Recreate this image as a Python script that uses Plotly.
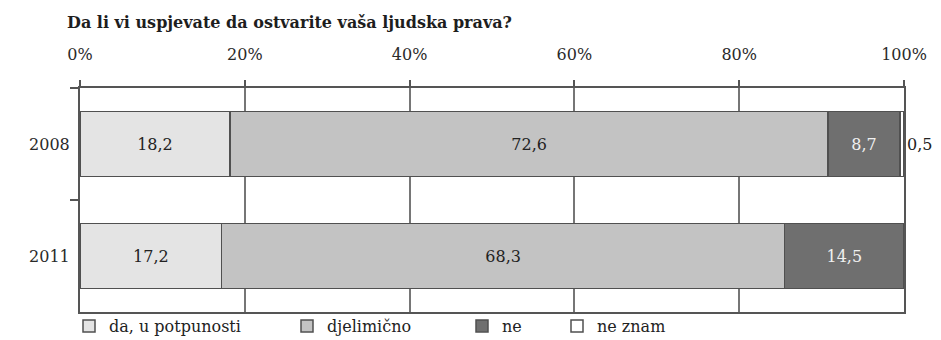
import plotly.graph_objects as go

# Survey answers by year (percent of respondents)
years = ["2008", "2011"]
answers = ["da, u potpunosti", "djelimično", "ne", "ne znam"]
da_u_potpunosti = [18.2, 17.2]
djelimicno = [72.6, 68.3]
ne = [8.7, 14.5]
ne_znam = [0.5, None]
tick_values = [0, 20, 40, 60, 80, 100]
tick_labels = ["0%", "20%", "40%", "60%", "80%", "100%"]

series = [da_u_potpunosti, djelimicno, ne, ne_znam]
fills = ["#e4e4e4", "#c3c3c3", "#6f6f6f", "#ffffff"]
text_colors = ["#222222", "#222222", "#f0f0f0", "#222222"]
legend_names = ["legend", "legend2", "legend3", "legend4"]
legend_left_px = [69, 287, 462, 557]

FONT = "DejaVu Serif"
W, H = 941, 340
M = dict(l=80, r=37, t=88, b=28)
plot_w = W - M["l"] - M["r"]

fig = go.Figure()
for i, (name, vals) in enumerate(zip(answers, series)):
    positions = ["inside", "inside"] if i < 3 else ["outside", "none"]
    fig.add_trace(go.Bar(
        y=years, x=vals, name=name, orientation="h",
        marker=dict(color=fills[i], line=dict(color="#505050", width=1.5)),
        texttemplate="%{x:.1f}",
        textposition=positions,
        insidetextanchor="middle",
        textangle=0,
        constraintext="none",
        cliponaxis=False,
        textfont=dict(family=FONT, size=16, color=text_colors[i]),
        width=0.58,
        legend=legend_names[i],
        hoverinfo="skip",
    ))

layout_legends = {}
for lname, px in zip(legend_names, legend_left_px):
    layout_legends[lname] = dict(
        x=(px - M["l"]) / plot_w, xanchor="left",
        yref="container", y=(H - 326) / H, yanchor="middle",
        orientation="h", bgcolor="rgba(0,0,0,0)",
        font=dict(family=FONT, size=16, color="#222222"),
        itemwidth=30,
    )

fig.update_layout(
    width=W, height=H,
    margin=dict(M, autoexpand=False),
    barmode="stack",
    separators=",.",
    paper_bgcolor="white",
    plot_bgcolor="white",
    font=dict(family=FONT, size=16, color="#333333"),
    title=dict(
        text="<b>Da li vi uspjevate da ostvarite vaša ljudska prava?</b>",
        x=67 / W, xanchor="left", xref="container",
        y=1 - 22 / H, yanchor="middle",
        font=dict(family=FONT, size=16, color="#1e1e1e"),
    ),
    showlegend=True,
    **layout_legends,
)

fig.update_xaxes(
    side="top", range=[0, 100],
    tickvals=tick_values, ticktext=tick_labels,
    showgrid=True, gridcolor="#767676", gridwidth=1.5,
    showline=True, linecolor="#555555", linewidth=2, mirror=True,
    ticks="outside", ticklen=6, tickcolor="#555555", tickwidth=1.5,
    ticklabelstandoff=14,
    zeroline=False,
    tickfont=dict(family=FONT, size=16, color="#2a2a2a"),
)
fig.update_yaxes(
    type="category", categoryorder="array", categoryarray=years,
    autorange="reversed",
    showgrid=False,
    showline=True, linecolor="#555555", linewidth=2, mirror=True,
    ticks="outside", tickson="boundaries", ticklen=8,
    tickcolor="#555555", tickwidth=1.5,
    ticklabelstandoff=5,
    tickfont=dict(family=FONT, size=16, color="#2a2a2a"),
)

fig.write_html("out.html")
